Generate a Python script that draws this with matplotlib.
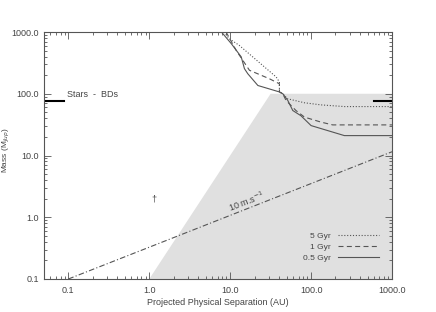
import matplotlib
matplotlib.use("Agg")
import matplotlib.pyplot as plt
from matplotlib.ticker import FixedLocator, FuncFormatter

plt.rcParams['font.family'] = ['Liberation Sans', 'DejaVu Sans']
plt.rcParams['mathtext.fontset'] = 'dejavusans'

# ---- data ----
sep_05 = [7.8, 10.3, 13.7, 15.0, 16.5, 22, 40.6, 44.7, 51.5, 59.4, 75, 100, 258, 1000]
mass_05 = [1000, 650, 395, 255, 211, 136, 107, 100, 78, 53.5, 44, 30.5, 21, 21]

sep_1 = [8.9, 11.9, 17.3, 30.5, 40.6, 40.6, 44.7, 49, 65, 83, 133, 185, 1000]
mass_1 = [1000, 500, 240, 175, 145, 107, 100, 78, 53.5, 41.8, 34.7, 31.3, 31.3]

sep_5 = [8.4, 9.7, 12.9, 37, 40.6, 40.6, 44.7, 51, 83, 133, 258, 1000]
mass_5 = [1000, 780, 610, 187, 155, 107, 100, 83, 71.4, 66, 62, 62]

region_sep = [1.0, 31.6, 1000, 1000]
region_mass = [0.1, 100, 100, 0.1]

rv_sep = [0.1, 1000]
rv_mass = [0.1, 11.5]

bd_limit = 75
dagger_sep, dagger_mass = 1.15, 2.0

xticks = [0.1, 1.0, 10.0, 100.0, 1000.0]
yticks = [0.1, 1.0, 10.0, 100.0, 1000.0]

tc = '#444444'
lc = '#555555'

fig = plt.figure(figsize=(4.36, 3.12), dpi=100)
ax = fig.add_axes([44/436, 1-279/312, 348/436, 247/312])
ax.set_xscale('log')
ax.set_yscale('log')
ax.set_xlim(0.05, 1000)
ax.set_ylim(0.1, 1000)

ax.fill(region_sep, region_mass, color='#e0e0e0', lw=0, zorder=0)

ax.plot(rv_sep, rv_mass, color=lc, lw=0.8, dashes=[5, 2, 1, 2])
ax.text(15.8, 1.8, '10 m.s$^{-1}$', rotation=21, ha='center', va='center',
        fontsize=6.5, color=tc)

ax.plot(sep_5, mass_5, color=lc, lw=0.8, dashes=[1, 1.6], label='5 Gyr')
ax.plot(sep_1, mass_1, color=lc, lw=0.8, dashes=[4.5, 3], label='1 Gyr')
ax.plot(sep_05, mass_05, color=lc, lw=0.8, label='0.5 Gyr')

ax.axhline(bd_limit, xmin=0, xmax=0.058, color='black', lw=1.5)
ax.axhline(bd_limit, xmin=0.948, xmax=1, color='black', lw=1.5)
ax.text(0.095, 96, 'Stars  -  BDs', fontsize=6.5, color=tc, ha='left', va='center')

ax.text(dagger_sep, dagger_mass, '\u2020', fontsize=6.5, color=tc, ha='center', va='center')

leg = ax.legend(loc='lower right', markerfirst=False, frameon=False, fontsize=6,
                handlelength=5, handletextpad=0.8, labelspacing=0.35,
                bbox_to_anchor=(0.985, 0.04), labelcolor=tc)

fmt = FuncFormatter(lambda v, p: '%.1f' % v)
ax.xaxis.set_major_locator(FixedLocator(xticks))
ax.yaxis.set_major_locator(FixedLocator(yticks))
ax.xaxis.set_major_formatter(fmt)
ax.yaxis.set_major_formatter(fmt)
ax.tick_params(which='both', direction='in', top=True, right=True, colors=lc,
               labelcolor=tc, labelsize=6.5, width=0.6)
ax.tick_params(which='major', length=5)
ax.tick_params(which='minor', length=2.5)
ax.tick_params(axis='x', pad=5)
for s in ax.spines.values():
    s.set_color(lc)
    s.set_linewidth(0.8)

ax.set_xlabel('Projected Physical Separation (AU)', fontsize=6.5, color=tc, labelpad=2)
fig.text(6/436, 1-150/312, 'Mass (M$_{Jup}$)', rotation=90, ha='center', va='center',
         fontsize=6, color=tc)

fig.savefig('out.png', dpi=100)
